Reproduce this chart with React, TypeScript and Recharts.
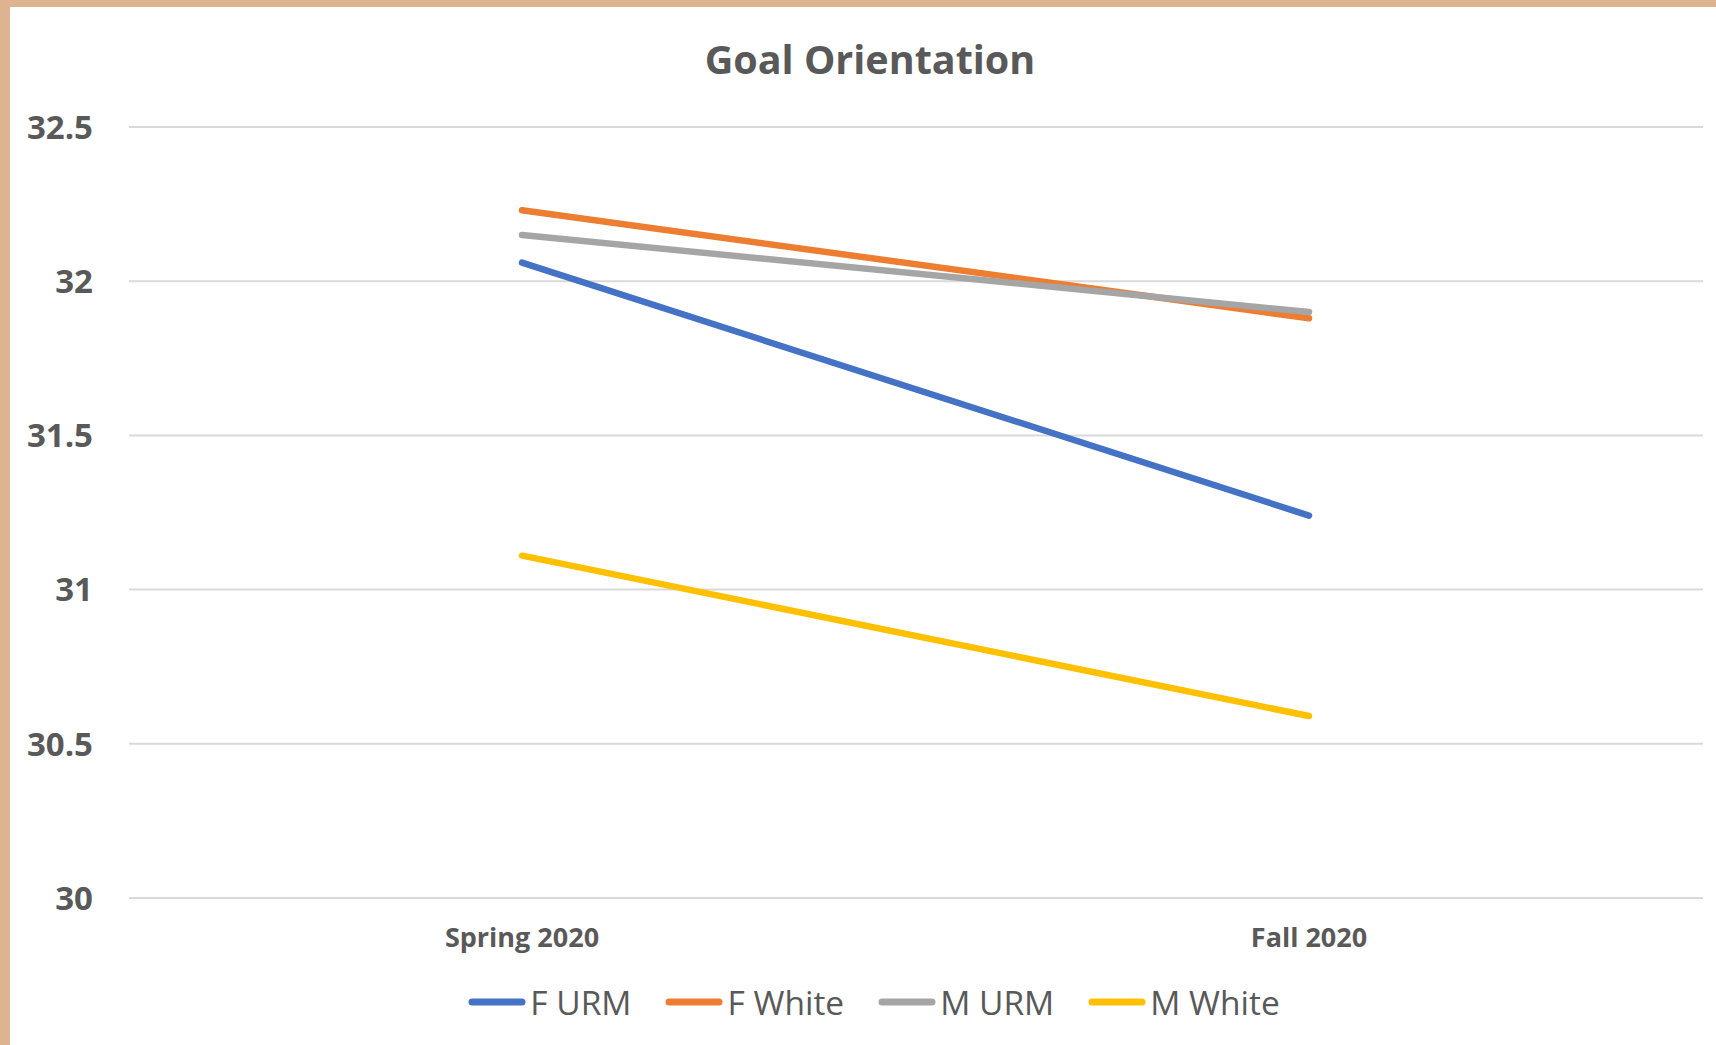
import React from 'react';
import { LineChart, Line, XAxis, YAxis, CartesianGrid, Legend } from 'recharts';

const terms = ['Spring 2020', 'Fall 2020'];
const fUrm = [32.06, 31.24];
const fWhite = [32.23, 31.88];
const mUrm = [32.15, 31.9];
const mWhite = [31.11, 30.59];
const yTicks = [30, 30.5, 31, 31.5, 32, 32.5];

const series = [
  { key: 'F URM', values: fUrm, color: '#4472C4' },
  { key: 'F White', values: fWhite, color: '#ED7D31' },
  { key: 'M URM', values: mUrm, color: '#A5A5A5' },
  { key: 'M White', values: mWhite, color: '#FFC000' },
];

const data = terms.map((term, i) => {
  const row: Record<string, string | number> = { term };
  series.forEach(s => {
    row[s.key] = s.values[i];
  });
  return row;
});

const FONT = '"Open Sans", sans-serif';
const TEXT = '#595959';

// legend laid out like the Excel one: line swatch then label
function LegendRow({ payload }: any) {
  return (
    <div style={{ display: 'flex', justifyContent: 'center', alignItems: 'center', height: 50, paddingLeft: 32, gap: 34 }}>
      {(payload || []).map((entry: any) => (
        <div key={entry.value} style={{ display: 'flex', alignItems: 'center' }}>
          <svg width={58} height={10} style={{ marginRight: 4 }}>
            <line x1={4} y1={5} x2={54} y2={5} stroke={entry.color} strokeWidth={7} strokeLinecap="round" />
          </svg>
          <span style={{ fontFamily: FONT, fontSize: 33.5, color: TEXT }}>{entry.value}</span>
        </div>
      ))}
    </div>
  );
}

export default function App() {
  return (
    <div
      style={{
        position: 'absolute',
        left: 0,
        top: 0,
        width: 1716,
        height: 1045,
        boxSizing: 'border-box',
        background: '#fff',
        borderLeft: '10px solid #DDB48F',
        borderTop: '7px solid #DDB48F',
      }}
    >
      <div
        style={{
          position: 'absolute',
          left: -10,
          top: 25,
          width: 1740,
          textAlign: 'center',
          fontFamily: FONT,
          fontWeight: 700,
          fontSize: 39.5,
          color: TEXT,
        }}
      >
        Goal Orientation
      </div>
      <div style={{ position: 'absolute', left: -10, top: -7 }}>
        <LineChart width={1716} height={1045} data={data} margin={{ top: 127, right: 13, bottom: 0, left: 0 }}>
          <CartesianGrid vertical={false} stroke="#D9D9D9" strokeWidth={2} />
          <XAxis
            dataKey="term"
            axisLine={false}
            tickLine={false}
            tickSize={0}
            tickMargin={30}
            height={97}
            padding={{ left: 393, right: 394 }}
            tick={{ fontFamily: FONT, fontWeight: 700, fontSize: 27, fill: TEXT }}
          />
          <YAxis
            domain={[30, 32.5]}
            ticks={yTicks}
            axisLine={false}
            tickLine={false}
            tickSize={0}
            tickMargin={36}
            width={129}
            tick={{ fontFamily: FONT, fontWeight: 700, fontSize: 33, fill: TEXT }}
          />
          <Legend verticalAlign="bottom" content={<LegendRow />} wrapperStyle={{ bottom: 18, left: 0, width: 1716 }} />
          {series.map(s => (
            <Line
              key={s.key}
              dataKey={s.key}
              stroke={s.color}
              strokeWidth={6.5}
              strokeLinecap="round"
              dot={false}
              activeDot={false}
              isAnimationActive={false}
            />
          ))}
        </LineChart>
      </div>
    </div>
  );
}
